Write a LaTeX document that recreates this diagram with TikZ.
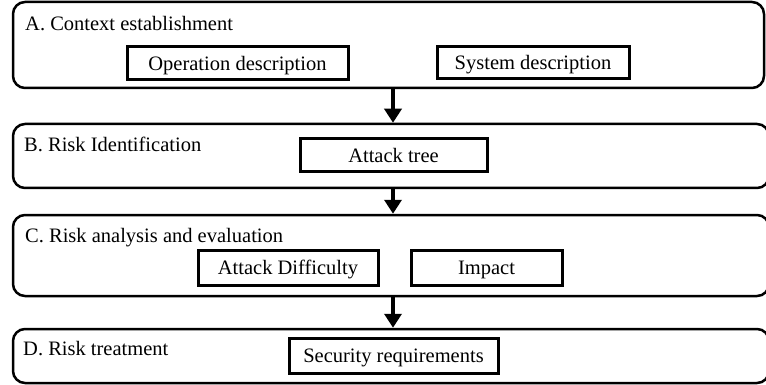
\documentclass[tikz,border=0pt]{standalone}
\usepackage{fontspec}
\setmainfont{Liberation Serif}
\usetikzlibrary{arrows.meta}
\begin{document}
\begin{tikzpicture}[x=1pt,y=-1pt,
  stage/.style={draw, line width=2.5pt, rounded corners=12pt, rectangle, inner sep=0pt},
  item/.style={draw, line width=3pt, rectangle, inner sep=0pt, text height=13.5pt, text depth=0pt, font=\fontsize{20.5}{24}\selectfont},
  label/.style={anchor=base west, inner sep=0pt, font=\fontsize{20.5}{24}\selectfont},
  flow/.style={line width=4pt, -{Triangle[width=17pt,length=14pt]}}
]
\useasboundingbox (0,0) rectangle (766,385);
% stages
\node[stage, minimum width=751pt, minimum height=86pt] (A) at (388.5,45) {};
\node[stage, minimum width=756pt, minimum height=64pt] (B) at (391,156) {};
\node[stage, minimum width=756pt, minimum height=81pt] (C) at (391,255.5) {};
\node[stage, minimum width=756pt, minimum height=54pt] (D) at (391,356) {};
% stage labels
\node[label] (la) at (25,31) {A. Context establishment};
\node[label] (lb) at (24,152) {B. Risk Identification};
\node[label] (lc) at (25,242) {C. Risk analysis and evaluation};
\node[label] (ld) at (23,355) {D. Risk treatment};
% items
\node[item, minimum width=221pt, minimum height=33pt] (op) at (237.5,63.5) {Operation description};
\node[item, minimum width=192pt, minimum height=32pt] (sys) at (533,63) {System description};
\node[item, minimum width=187pt, minimum height=33pt] (at) at (393.5,155.5) {Attack tree};
\node[item, minimum width=180pt, minimum height=35pt] (ad) at (288,267.5) {Attack Difficulty};
\node[item, minimum width=151pt, minimum height=35pt] (im) at (486.5,267.5) {Impact};
\node[item, minimum width=209pt, minimum height=35pt] (sr) at (393.5,355.5) {Security requirements};
% arrows
\coordinate (ax) at (393,0);
\draw[flow] (ax |- A.south) -- (ax |- B.north);
\draw[flow] (ax |- B.south) -- (ax |- C.north);
\draw[flow] (ax |- C.south) -- (ax |- D.north);
\end{tikzpicture}
\end{document}
